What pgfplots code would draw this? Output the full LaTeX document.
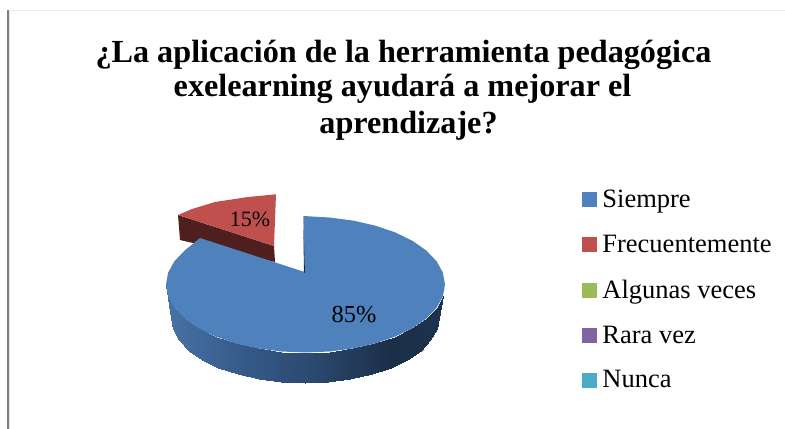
\documentclass[border=0pt]{standalone}
\usepackage{fontspec}
\setmainfont{Liberation Serif}
\usepackage{pgfplots}
\pgfplotsset{compat=1.18}
\definecolor{cblue}{HTML}{4F81BD}
\definecolor{cred}{HTML}{C0504D}
\definecolor{cgreen}{HTML}{9BBB59}
\definecolor{cpurple}{HTML}{8064A2}
\definecolor{cteal}{HTML}{4BACC6}
\definecolor{cwall}{HTML}{4E1F1D}
\definecolor{cblack}{HTML}{10243A}
\begin{document}
\begin{tikzpicture}
\begin{axis}[
  anchor=south west, at={(0,0)},
  width=785bp, height=429bp, scale only axis,
  xmin=0, xmax=785, ymin=0, ymax=429, y dir=reverse,
  axis lines=none, clip=true,
  colormap={side}{rgb255(0cm)=(72,115,165); rgb255(3cm)=(52,88,133); rgb255(5cm)=(45,75,115); rgb255(8cm)=(28,47,72); rgb255(10cm)=(28,50,78)},
  legend style={at={(axis cs:582,188)}, anchor=north west, draw=none, fill=none, inner sep=0pt, outer sep=0pt,
    font=\fontsize{26.6}{26.6}\selectfont, /tikz/row sep=22bp},
  legend cell align=left,
  legend image code/.code={\fill[#1] (0bp,-7bp) rectangle (14bp,7bp); \path (18bp,0bp);},
]
% frame
\addplot[forget plot, draw=black!8, line width=1bp] coordinates {(8,10.5) (785,10.5)};
\addplot[forget plot, draw=black!50, line width=1.3bp] coordinates {(8,10) (8,429)};
\addplot[forget plot, draw=black!10, line width=1bp] coordinates {(9.5,11) (9.5,429)};
% red slice: wall and top
\addplot[forget plot, fill=cwall, draw=none] coordinates {(178,215) (274,246) (275,262) (180,240) (178,215)};
\addplot[forget plot, fill=cred, draw=none] coordinates {(276,194.3) (248,197) (215,202) (192,209) (178,215) (274,246) (276,194.3)};
% blue side wall
\addplot[forget plot, patch, patch type=rectangle, shader=interp, point meta=x] coordinates {
(170.5,318) (166,284.5) (168.1,296.3) (172.5,329.3)
(172.5,329.3) (168.1,296.3) (174.4,307.8) (178.6,340.2)
(178.6,340.2) (174.4,307.8) (184.7,318.5) (188.5,350.5)
(188.5,350.5) (184.7,318.5) (198.6,328.2) (201.9,359.8)
(201.9,359.8) (198.6,328.2) (215.8,336.6) (218.4,367.8)
(218.4,367.8) (215.8,336.6) (235.75,343.4) (237.5,374.3)
(237.5,374.3) (235.75,343.4) (257.8,348.4) (258.7,379.1)
(258.7,379.1) (257.8,348.4) (281.3,351.5) (281.2,382)
(281.2,382) (281.3,351.5) (305.5,352.5) (304.5,383)
(304.5,383) (305.5,352.5) (329.7,351.5) (327.8,382)
(327.8,382) (329.7,351.5) (353.2,348.4) (350.3,379.1)
(350.3,379.1) (353.2,348.4) (375.25,343.4) (371.5,374.3)
(371.5,374.3) (375.25,343.4) (395.2,336.6) (390.6,367.8)
(390.6,367.8) (395.2,336.6) (412.4,328.2) (407.1,359.8)
(407.1,359.8) (412.4,328.2) (426.3,318.5) (420.5,350.5)
(420.5,350.5) (426.3,318.5) (436.6,307.8) (430.4,340.2)
(430.4,340.2) (436.6,307.8) (442.9,296.3) (436.5,329.3)
(436.5,329.3) (442.9,296.3) (445,284.5) (438.5,318)
};
% blue top
\addplot[forget plot, fill=cblue, draw=none] coordinates {
(304.6,272) (303.3,216) (329.7,217.5) (353.2,220.6) (375.25,225.6) (395.2,232.4) (412.4,240.8)
(426.3,250.5) (436.6,261.2) (442.9,272.7) (445,284.5) (442.9,296.3) (436.6,307.8) (426.3,318.5)
(412.4,328.2) (395.2,336.6) (375.25,343.4) (353.2,348.4) (329.7,351.5) (305.5,352.5) (281.3,351.5)
(257.8,348.4) (235.75,343.4) (215.8,336.6) (198.6,328.2) (184.7,318.5) (174.4,307.8) (168.1,296.3)
(166,284.5) (168.1,272.7) (174.4,261.2) (184.7,250.5) (200,238) (304.6,272)};
\addplot[forget plot, fill=cblack, draw=none] coordinates {(303.3,225) (305,272.5) (304,272.5) (303.3,225)};
% legend
\addlegendimage{cblue}\addlegendentry{Siempre}
\addlegendimage{cred}\addlegendentry{Frecuentemente}
\addlegendimage{cgreen}\addlegendentry{Algunas veces}
\addlegendimage{cpurple}\addlegendentry{Rara vez}
\addlegendimage{cteal}\addlegendentry{Nunca}
% texts
\node[anchor=base, font=\fontsize{32.3}{32.3}\selectfont\bfseries] at (axis cs:403.5,62.5) {¿La aplicación de la herramienta pedagógica};
\node[anchor=base, font=\fontsize{32.3}{32.3}\selectfont\bfseries] at (axis cs:402.5,96) {exelearning ayudará a mejorar el};
\node[anchor=base, font=\fontsize{32.3}{32.3}\selectfont\bfseries] at (axis cs:408.5,133.5) {aprendizaje?};
\node[anchor=base, font=\fontsize{24.5}{24.5}\selectfont] at (axis cs:354,322) {85\%};
\node[anchor=base, font=\fontsize{22}{22}\selectfont] at (axis cs:250,226) {15\%};
\end{axis}
\path[use as bounding box] (0,0) rectangle (785bp,429bp);
\end{tikzpicture}
\end{document}
